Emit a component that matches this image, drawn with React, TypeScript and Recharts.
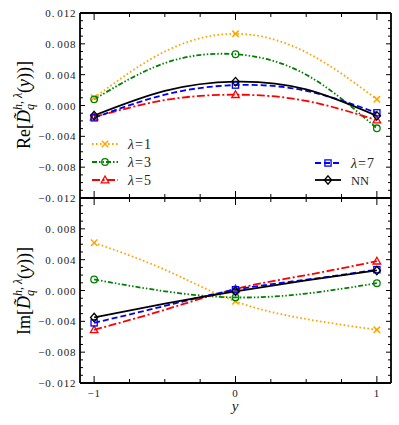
import React from 'react';
import { LineChart, Line, XAxis, YAxis, ReferenceLine } from 'recharts';

// ---- data ----
const yPos = [-1, -0.5, 0, 0.5, 1];

const reLam1 = [0.001, 0.007, 0.0093, 0.0069, 0.0008];
const reLam3 = [0.0008, 0.0055, 0.00665, 0.004, -0.00296];
const reLam5 = [-0.0015, 0.0007, 0.0014, 0.0006, -0.0019];
const reLam7 = [-0.0016, 0.0014, 0.00265, 0.0019, -0.00095];
const reNN = [-0.0013, 0.0019, 0.0031, 0.0021, -0.00134];

const imLam1 = [0.0062, 0.0027, -0.0014, -0.0037, -0.0051];
const imLam3 = [0.00143, -0.0001, -0.0009, -0.0004, 0.00095];
const imLam5 = [-0.0051, -0.0025, 0.0002, 0.002, 0.0038];
const imLam7 = [-0.0042, -0.002, 0.0001, 0.0014, 0.0027];
const imNN = [-0.0035, -0.0017, -0.0001, 0.0013, 0.0026];

const markerPositions = [-1, 0, 1];
const xTicks = [-1, -0.75, -0.5, -0.25, 0, 0.25, 0.5, 0.75, 1];
const xMajorTicks = [-1, 0, 1];
const xTickLabels = ['\u22121', '0', '1'];
const yTicks = [
  -0.012, -0.011, -0.01, -0.009, -0.008, -0.007, -0.006, -0.005, -0.004, -0.003, -0.002, -0.001, 0,
  0.001, 0.002, 0.003, 0.004, 0.005, 0.006, 0.007, 0.008, 0.009, 0.01, 0.011, 0.012,
];
const yMajorTicks = [-0.012, -0.008, -0.004, 0, 0.004, 0.008, 0.012];
const yDomain: [number, number] = [-0.012, 0.012];
const xDomain: [number, number] = [-1.1, 1.1];

const seriesNames = ['\u03bb=1', '\u03bb=3', '\u03bb=5', '\u03bb=7', 'NN'];

// ---- styles ----
const FONT = "'Liberation Serif', 'DejaVu Serif', serif";
type Kind = 'x' | 'circle' | 'triangle' | 'square' | 'diamond';
const styles: { key: string; color: string; dash?: string; marker: Kind }[] = [
  { key: 'l1', color: '#FFA500', dash: '1.6 2.4', marker: 'x' },
  { key: 'l3', color: '#008000', dash: '5 2 1.5 2 1.5 2', marker: 'circle' },
  { key: 'l5', color: '#FF0000', dash: '8 2.5 2 2.5', marker: 'triangle' },
  { key: 'l7', color: '#0000FF', dash: '6 3', marker: 'square' },
  { key: 'nn', color: '#000000', marker: 'diamond' },
];
const LINE_W = 1.8;

const reRows = yPos.map((p, i) => ({
  pos: p, l1: reLam1[i], l3: reLam3[i], l5: reLam5[i], l7: reLam7[i], nn: reNN[i],
}));
const imRows = yPos.map((p, i) => ({
  pos: p, l1: imLam1[i], l3: imLam3[i], l5: imLam5[i], l7: imLam7[i], nn: imNN[i],
}));

const near = (a: number, b: number) => Math.abs(a - b) < 1e-9;
const isYMajor = (v: number) => yMajorTicks.some((t) => near(t, v));
const isXMajor = (v: number) => xMajorTicks.some((t) => near(t, v));

function Marker({ kind, cx, cy, color }: { kind: Kind; cx: number; cy: number; color: string }) {
  const sw = 1.3;
  if (kind === 'x') {
    const s = 3.2;
    return (
      <g stroke={color} strokeWidth={1.5}>
        <line x1={cx - s} y1={cy - s} x2={cx + s} y2={cy + s} />
        <line x1={cx - s} y1={cy + s} x2={cx + s} y2={cy - s} />
      </g>
    );
  }
  if (kind === 'circle') return <circle cx={cx} cy={cy} r={3.3} fill="none" stroke={color} strokeWidth={sw} />;
  if (kind === 'triangle')
    return (
      <polygon
        points={`${cx},${cy - 4} ${cx - 3.8},${cy + 2.8} ${cx + 3.8},${cy + 2.8}`}
        fill="none" stroke={color} strokeWidth={sw}
      />
    );
  if (kind === 'square')
    return <rect x={cx - 3.1} y={cy - 3.1} width={6.2} height={6.2} fill="none" stroke={color} strokeWidth={sw} />;
  return (
    <polygon
      points={`${cx},${cy - 4.2} ${cx + 3.6},${cy} ${cx},${cy + 4.2} ${cx - 3.6},${cy}`}
      fill="none" stroke={color} strokeWidth={sw}
    />
  );
}

const fmtY = (v: number) => {
  const s = Math.abs(v).toFixed(3);
  const sign = v < -1e-12 ? '\u2212' : '';
  return { head: sign + s.slice(0, 2), tail: s.slice(2) };
};

const tickTextProps = { fontFamily: FONT, fontSize: 11, fill: '#222', letterSpacing: 0.9 };

const makeLeftTick = (skip: number[]) => (props: any) => {
  const { x, y, payload, index } = props;
  const v = payload.value as number;
  const showLabel = isYMajor(v) && !skip.some((s) => near(s, v));
  if (!showLabel) return <g key={`lt${index}`} />;
  const f = fmtY(v);
  return (
    <text key={`lt${index}`} x={x - 3.5} y={y} textAnchor="end" dominantBaseline="central" {...tickTextProps}>
      <tspan>{f.head}</tspan>
      <tspan dx={2}>{f.tail}</tspan>
    </text>
  );
};

const BottomTick = (props: any) => {
  const { x, y, payload, index } = props;
  const mi = xMajorTicks.findIndex((t) => near(t, payload.value));
  if (mi < 0) return <g key={`bt${index}`} />;
  return (
    <text key={`bt${index}`} x={x} y={y + 14} textAnchor="middle" {...tickTextProps}>
      {xTickLabels[mi]}
    </text>
  );
};

// tick marks drawn inward on both sides of the frame, positioned by the chart's scales
const yTickShape = (major: boolean) => (p: any) => {
  const l = Math.min(p.x1, p.x2);
  const r = Math.max(p.x1, p.x2);
  const len = major ? 5 : 3;
  return (
    <g stroke="#000" strokeWidth={1}>
      <line x1={l} x2={l + len} y1={p.y1} y2={p.y1} />
      <line x1={r} x2={r - len} y1={p.y1} y2={p.y1} />
    </g>
  );
};
const xTickShape = (major: boolean) => (p: any) => {
  const t = Math.min(p.y1, p.y2);
  const b = Math.max(p.y1, p.y2);
  const len = major ? 7 : 4;
  return (
    <g stroke="#000" strokeWidth={1}>
      <line x1={p.x1} x2={p.x1} y1={t} y2={t + len} />
      <line x1={p.x1} x2={p.x1} y1={b} y2={b - len} />
    </g>
  );
};

const renderDot = (kind: Kind, color: string) => (p: any) => {
  const show = markerPositions.some((m) => near(m, p.payload.pos));
  if (!show || p.cx == null || p.cy == null) return <g key={`d${p.index}`} />;
  return (
    <g key={`d${p.index}`}>
      <Marker kind={kind} cx={p.cx} cy={p.cy} color={color} />
    </g>
  );
};

function Panel({ rows, height, top, bottomLabels, skipLabels }: any) {
  return (
    <div style={{ position: 'absolute', left: 0, top }}>
      <LineChart width={399} height={height} data={rows} margin={{ top: 0, right: 0, bottom: 0, left: 0 }}>
        <XAxis
          xAxisId="t" orientation="top" type="number" dataKey="pos" domain={xDomain} ticks={xTicks}
          interval={0} height={top === 0 ? 13 : 0} tick={false} tickLine={false} axisLine={false}
        />
        <XAxis
          xAxisId="b" orientation="bottom" type="number" dataKey="pos" domain={xDomain} ticks={xTicks}
          interval={0} height={bottomLabels ? 42 : 0} tickSize={0} tickMargin={0} tickLine={false}
          axisLine={false} tick={bottomLabels ? BottomTick : false}
        />
        <YAxis
          yAxisId="l" orientation="left" type="number" domain={yDomain} ticks={yTicks} interval={0}
          width={80} tickSize={0} tickMargin={0} tickLine={false} axisLine={false}
          tick={makeLeftTick(skipLabels)}
        />
        <YAxis
          yAxisId="r" orientation="right" type="number" domain={yDomain} ticks={yTicks} interval={0}
          width={8} tick={false} tickLine={false} axisLine={false}
        />
        {yTicks.map((v) => (
          <ReferenceLine
            key={`yt${v}`} xAxisId="b" yAxisId="l" y={v} stroke="none"
            shape={yTickShape(isYMajor(v))}
          />
        ))}
        {xTicks.map((v) => (
          <ReferenceLine
            key={`xt${v}`} xAxisId="b" yAxisId="l" x={v} stroke="none"
            shape={xTickShape(isXMajor(v))}
          />
        ))}
        {styles.map((s) => (
          <Line
            key={s.key}
            xAxisId="b"
            yAxisId="l"
            type="natural"
            dataKey={s.key}
            stroke={s.color}
            strokeWidth={LINE_W}
            strokeDasharray={s.dash}
            dot={renderDot(s.marker, s.color)}
            activeDot={false}
            isAnimationActive={false}
          />
        ))}
        <ReferenceLine xAxisId="b" yAxisId="l" x={xDomain[0]} stroke="#000" strokeWidth={1.8} />
        <ReferenceLine xAxisId="b" yAxisId="l" x={xDomain[1]} stroke="#000" strokeWidth={1.8} />
        <ReferenceLine xAxisId="b" yAxisId="l" y={yDomain[0]} stroke="#000" strokeWidth={1.8} />
        <ReferenceLine xAxisId="b" yAxisId="l" y={yDomain[1]} stroke="#000" strokeWidth={1.8} />
      </LineChart>
    </div>
  );
}

function AxisTitle({ x, y, prefix }: { x: number; y: number; prefix: string }) {
  return (
    <text
      transform={`translate(${x},${y}) rotate(-90)`}
      textAnchor="middle"
      fontFamily={FONT}
      fontSize={18}
      fill="#000"
    >
      <tspan>{prefix}[</tspan>
      <tspan fontStyle="italic">{'D\u0303'}</tspan>
      <tspan fontStyle="italic" fontSize={12} dy={4}>q</tspan>
      <tspan fontStyle="italic" fontSize={12} dx={-6} dy={-12}>h, {'\u03bb'}</tspan>
      <tspan dy={8}>(</tspan>
      <tspan fontStyle="italic">y</tspan>
      <tspan>))]</tspan>
    </text>
  );
}

function LegendItem({ x, y, idx }: { x: number; y: number; idx: number }) {
  const s = styles[idx];
  const name = seriesNames[idx];
  const isLam = name.startsWith('\u03bb');
  return (
    <g>
      <line x1={x} x2={x + 26} y1={y} y2={y} stroke={s.color} strokeWidth={LINE_W} strokeDasharray={s.dash} />
      <Marker kind={s.marker} cx={x + 13} cy={y} color={s.color} />
      <text x={x + 36} y={y + 4.5} fontFamily={FONT} fontSize={14} fill="#222">
        {isLam ? (
          <>
            <tspan fontStyle="italic">{'\u03bb'}</tspan>
            <tspan dx={1}>=</tspan>
            <tspan dx={1}>{name.slice(2)}</tspan>
          </>
        ) : (
          <tspan fontSize={12.5}>{name}</tspan>
        )}
      </text>
    </g>
  );
}

export default function App() {
  return (
    <div style={{ position: 'absolute', left: 0, top: 0, width: 399, height: 425, background: '#fff' }}>
      <style>{'.recharts-surface{overflow:visible}'}</style>
      <Panel rows={imRows} height={227} top={198} bottomLabels={true} skipLabels={[0.012]} />
      <Panel rows={reRows} height={198} top={0} bottomLabels={false} skipLabels={[]} />
      <svg width={399} height={425} style={{ position: 'absolute', left: 0, top: 0, pointerEvents: 'none' }}>
        <AxisTitle x={30} y={105} prefix="Re" />
        <AxisTitle x={30} y={291} prefix="Im" />
        <text x={235} y={411} textAnchor="middle" fontFamily={FONT} fontSize={15} fontStyle="italic" fill="#222">
          y
        </text>
        <LegendItem x={92} y={144} idx={0} />
        <LegendItem x={92} y={162} idx={1} />
        <LegendItem x={92} y={180} idx={2} />
        <LegendItem x={315} y={163} idx={3} />
        <LegendItem x={315} y={180} idx={4} />
      </svg>
    </div>
  );
}
